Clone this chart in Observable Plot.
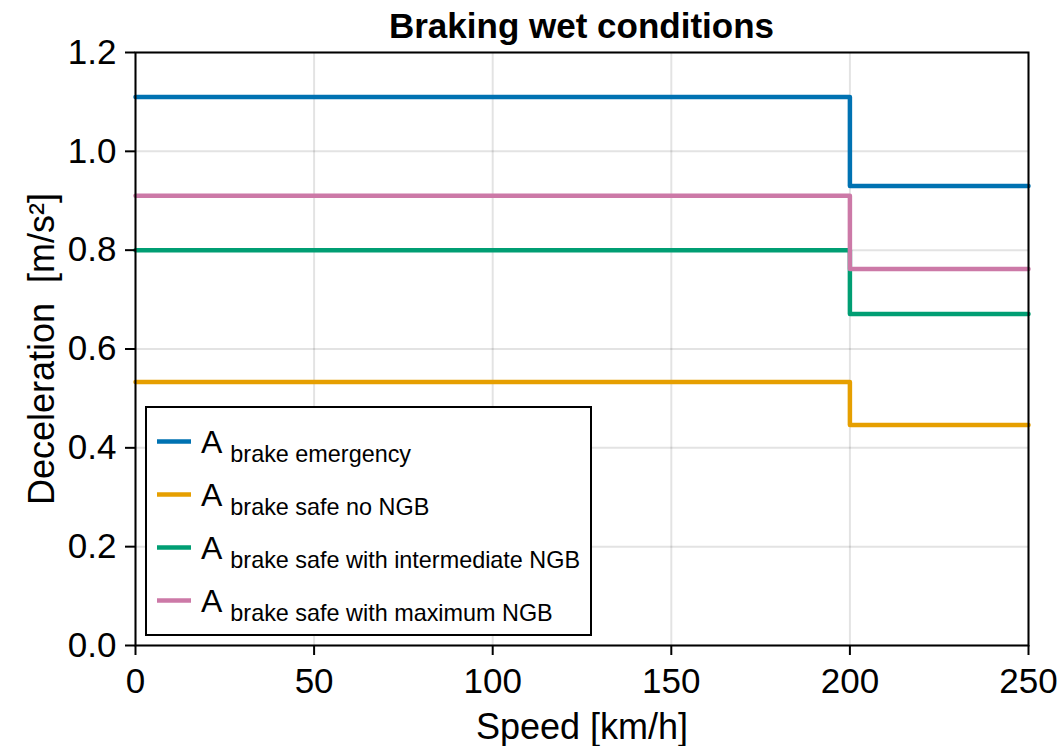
<!DOCTYPE html>
<html>
<head>
<meta charset="utf-8">
<script src="https://cdn.jsdelivr.net/npm/d3@7"></script>
<script src="https://cdn.jsdelivr.net/npm/@observablehq/plot@0.6"></script>
<style>
  body { margin: 0; background: #fff; }
  #wrap { position: relative; width: 1057px; height: 746px; font-family: "Liberation Sans", Arial, sans-serif; background: #fff; }
  #title { box-sizing: border-box; height: 40px; padding-top: 6px; line-height: 40px; font-size: 35px; font-weight: bold; text-align: center; padding-left: 135px; padding-right: 29px; white-space: nowrap; overflow: visible; }
  #title span { display: inline-block; line-height: 40px; }
  #legend { position: absolute; left: 145px; top: 406px; }
  svg { display: block; }
</style>
</head>
<body>
<div id="wrap">
  <div id="title"><span>Braking wet conditions</span></div>
  <div id="chart"></div>
  <div id="legend"></div>
</div>
<script>
// ---- data ----
const speeds = [0, 200, 250];
const brakeEmergency = [1.11, 0.93, 0.93];
const brakeSafeNoNGB = [0.533, 0.446, 0.446];
const brakeSafeIntermediateNGB = [0.80, 0.671, 0.671];
const brakeSafeMaximumNGB = [0.91, 0.762, 0.762];

const seriesNames = ["brake emergency", "brake safe no NGB", "brake safe with intermediate NGB", "brake safe with maximum NGB"];
const seriesValues = [brakeEmergency, brakeSafeNoNGB, brakeSafeIntermediateNGB, brakeSafeMaximumNGB];
const seriesColors = ["#0072B2", "#E69F00", "#009E73", "#CC79A7"];

const xTicks = [0, 50, 100, 150, 200, 250];
const yTicks = [0, 0.2, 0.4, 0.6, 0.8, 1.0, 1.2];

const xLabel = "Speed [km/h]";
const yLabel = "Deceleration  [m/s²]";

// ---- build rows ----
const rows = [];
seriesNames.forEach((name, i) => {
  speeds.forEach((s, j) => rows.push({series: name, speed: s, value: seriesValues[i][j]}));
});

const font = "Liberation Sans, Arial, sans-serif";

const chart = Plot.plot({
  width: 1057,
  height: 706,
  marginLeft: 135,
  marginRight: 29,
  marginTop: 12,
  marginBottom: 101,
  style: {fontFamily: font, fontSize: "35px", background: "white", color: "black", overflow: "visible"},
  x: {domain: [0, 250]},
  y: {domain: [0, 1.2]},
  marks: [
    Plot.gridX(xTicks, {stroke: "#000", strokeOpacity: 0.11, strokeWidth: 2}),
    Plot.gridY(yTicks, {stroke: "#000", strokeOpacity: 0.11, strokeWidth: 2}),
    ...seriesNames.map((name, i) =>
      Plot.line(rows.filter(d => d.series === name), {
        x: "speed", y: "value", curve: "step-after",
        stroke: seriesColors[i], strokeWidth: 4.5
      })
    ),
    Plot.frame({stroke: "black", strokeWidth: 2}),
    Plot.axisX(xTicks, {tickSize: 10, tickPadding: 13, strokeWidth: 2, label: null, fontSize: 35}),
    Plot.axisY(yTicks, {tickSize: 10, tickPadding: 9, strokeWidth: 2, label: null, tickFormat: d3.format(".1f"), fontSize: 35}),
    Plot.text([xLabel], {frameAnchor: "bottom", dy: 93, fontSize: 36, text: d => d}),
    Plot.text([yLabel], {frameAnchor: "left", dx: -93, rotate: -90, textAnchor: "middle", fontSize: 36, text: d => d})
  ]
});
document.getElementById("chart").appendChild(chart);

// ---- legend ----
const lw = 447, lh = 230;
const leg = d3.select("#legend").append("svg")
  .attr("width", lw).attr("height", lh)
  .style("font-family", font);
leg.append("rect").attr("x", 1).attr("y", 1).attr("width", lw - 2).attr("height", lh - 2)
  .attr("fill", "white").attr("stroke", "black").attr("stroke-width", 2);
seriesNames.forEach((name, i) => {
  const y0 = 35.5 + 53 * i;
  leg.append("line").attr("x1", 12).attr("x2", 46).attr("y1", y0).attr("y2", y0)
    .attr("stroke", seriesColors[i]).attr("stroke-width", 4.5);
  const t = leg.append("text").attr("x", 56).attr("y", y0 + 11).attr("fill", "black");
  t.append("tspan").attr("font-size", 32).text("A");
  t.append("tspan").attr("font-size", 23.4).attr("dx", 8).attr("dy", 9).text(name);
});
</script>
</body>
</html>
